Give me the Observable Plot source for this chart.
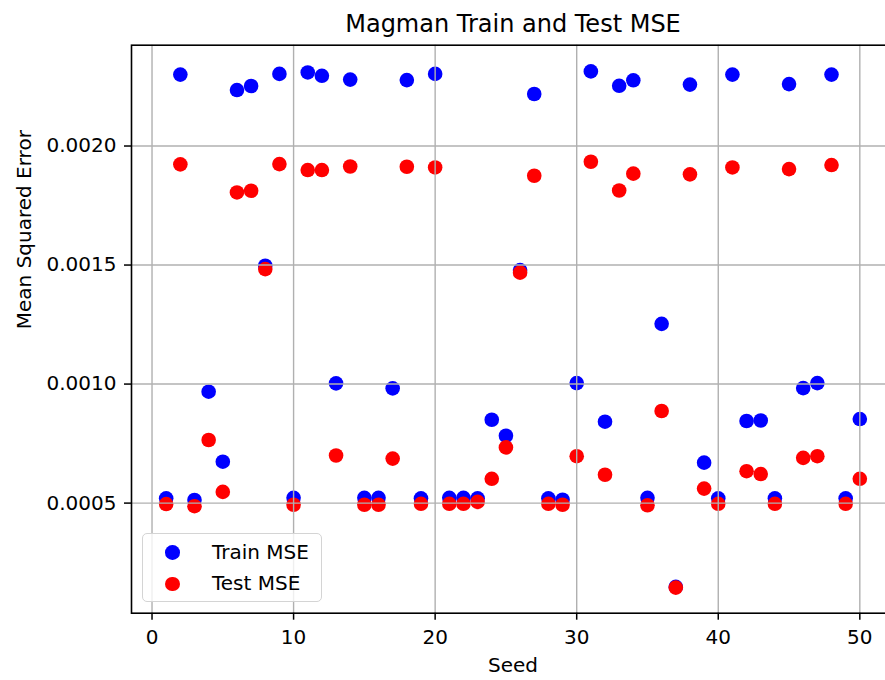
<!DOCTYPE html>
<html>
<head>
<meta charset="utf-8">
<script src="https://cdn.jsdelivr.net/npm/d3@7"></script>
<script src="https://cdn.jsdelivr.net/npm/@observablehq/plot@0.6"></script>
<style>
  html, body { margin: 0; padding: 0; background: white; overflow: hidden; }
  #fig { position: relative; width: 885px; height: 680px; overflow: hidden; font-family: "DejaVu Sans", sans-serif; }
  #fig > svg { max-width: none !important; width: 894px !important; height: 680px !important; display: block; }
  #legend { position: absolute; left: 142px; top: 533px; width: 180px; height: 69px; box-sizing: border-box;
            border: 1.3px solid #d4d4d4; border-radius: 5px; background: rgba(255,255,255,0.8); }
  #legend .sw { position: absolute; left: 22px; width: 14.6px; height: 14.6px; border-radius: 50%; }
  #legend .lb { position: absolute; left: 69px; font-size: 20px; line-height: 20px; white-space: nowrap; color: black; }
</style>
</head>
<body>
<div id="fig"></div>
<script>
// ---- data ----
const seeds = [1,2,3,4,5,6,7,8,9,10,11,12,13,14,15,16,17,18,19,20,21,22,23,24,25,26,27,28,29,30,31,32,33,34,35,36,37,38,39,40,41,42,43,44,45,46,47,48,49,50];
const trainMSE = [
  0.00052, 0.00230, 0.000513, 0.000968, 0.000674, 0.002235, 0.002252, 0.001497, 0.002303, 0.000522,
  0.002309, 0.002295, 0.001003, 0.002279, 0.000522, 0.000522, 0.000982, 0.002277, 0.00052, 0.002303,
  0.000522, 0.000522, 0.00052, 0.00085, 0.000783, 0.001479, 0.0022185, 0.00052, 0.000514, 0.001004,
  0.0023135, 0.000842, 0.002253, 0.002276, 0.000522, 0.001253, 0.000148, 0.002258, 0.00067, 0.00052,
  0.0023, 0.000845, 0.000847, 0.00052, 0.00226, 0.000983, 0.001004, 0.0023, 0.00052, 0.000853
];
const testMSE = [
  0.000496, 0.001923, 0.000487, 0.000765, 0.000547, 0.001805, 0.001812, 0.001483, 0.001924, 0.000493,
  0.001899, 0.001899, 0.0007, 0.001914, 0.000493, 0.000493, 0.000687, 0.001913, 0.000497, 0.00191,
  0.000497, 0.000497, 0.000505, 0.000602, 0.000734, 0.001468, 0.001875, 0.000497, 0.000493, 0.000697,
  0.001934, 0.000619, 0.001813, 0.001884, 0.000491, 0.000887, 0.000145, 0.001881, 0.000561, 0.000497,
  0.00191, 0.000634, 0.000622, 0.000497, 0.001903, 0.00069, 0.000697, 0.00192, 0.000497, 0.000602
];
const xTicks = [0, 10, 20, 30, 40, 50];
const yTicks = [0.0005, 0.0010, 0.0015, 0.0020];
const titleText = "Magman Train and Test MSE";
const xLabel = "Seed";
const yLabel = "Mean Squared Error";
const seriesNames = ["Train MSE", "Test MSE"];
const seriesColors = ["#0000ff", "#ff0000"];

const rows = seeds.map((s, i) => ({seed: s, train: trainMSE[i], test: testMSE[i]}));

const gridStyle = {stroke: "#b0b0b0", strokeOpacity: 1, strokeWidth: 1.4};

const chart = Plot.plot({
  width: 894,
  height: 680,
  marginLeft: 131,
  marginRight: 0,
  marginTop: 44.7,
  marginBottom: 67.3,
  x: {domain: [-1.45, 52.45]},
  y: {domain: [0.0000375, 0.0024235]},
  style: {fontFamily: "DejaVu Sans", fontSize: "20px", color: "black", background: "white"},
  marks: [
    Plot.dot(rows, {x: "seed", y: "train", r: 7.3, fill: seriesColors[0]}),
    Plot.dot(rows, {x: "seed", y: "test", r: 7.3, fill: seriesColors[1]}),
    Plot.gridX(xTicks, gridStyle),
    Plot.gridY(yTicks, gridStyle),
    Plot.frame({stroke: "black", strokeWidth: 1.6}),
    Plot.axisX(xTicks, {tickSize: 7, tickPadding: 10, strokeWidth: 1.5, fontSize: 20, label: null}),
    Plot.axisY(yTicks, {tickSize: 7, tickPadding: 8, strokeWidth: 1.5, fontSize: 20, label: null, tickFormat: d3.format(".4f")}),
    Plot.text([titleText], {frameAnchor: "top", lineAnchor: "bottom", dy: -13.7, fontSize: 24, fill: "black"}),
    Plot.text([xLabel], {frameAnchor: "bottom", lineAnchor: "bottom", dy: 59, fontSize: 20, fill: "black"}),
    Plot.text([yLabel], {frameAnchor: "left", lineAnchor: "bottom", rotate: -90, dx: -101, fontSize: 20, fill: "black"})
  ]
});

const fig = document.getElementById("fig");
fig.appendChild(chart);

// legend (inside the axes, lower left)
const legend = document.createElement("div");
legend.id = "legend";
const swTops = [11, 42.7];
const lbTops = [8.1, 38.8];
seriesNames.forEach((name, i) => {
  const sw = document.createElement("span");
  sw.className = "sw";
  sw.style.top = swTops[i] + "px";
  sw.style.background = seriesColors[i];
  const lb = document.createElement("span");
  lb.className = "lb";
  lb.style.top = lbTops[i] + "px";
  lb.textContent = name;
  legend.appendChild(sw);
  legend.appendChild(lb);
});
fig.appendChild(legend);
</script>
</body>
</html>
